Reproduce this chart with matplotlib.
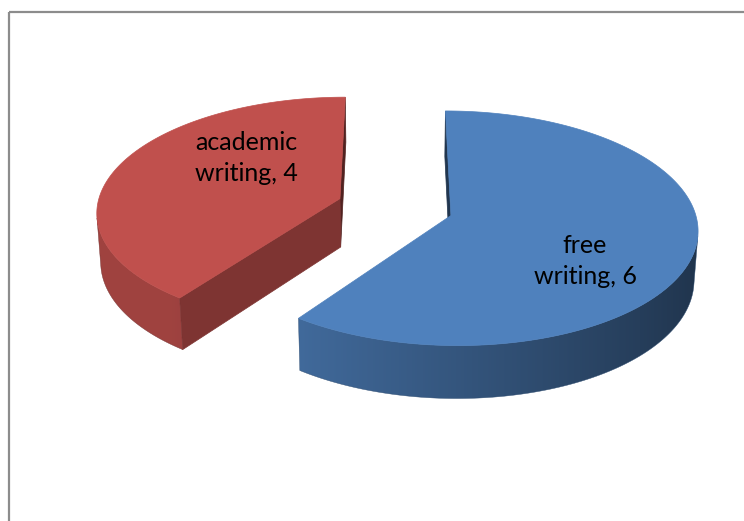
import numpy as np
import matplotlib.pyplot as plt
from matplotlib.patches import Polygon, Rectangle
from matplotlib.colors import to_rgb

# data
labels = ["academic\nwriting", "free\nwriting"]
values = [4, 6]
colors = ["#C0504D", "#4F81BD"]
label_xy = [(246, 158), (585, 261)]   # label centres (pixel layout)

# 3d view settings (Excel-like perspective pie)
ELEV = np.radians(28)
DIST = 8.2
SCALE = 243.0          # px per radius at pie centre
F = SCALE * DIST
CX, CY = 395, 207      # screen position of pie centre
THICK = 0.23
EXPLODE = 0.24
START = 90.0


def proj(X, Y, Z):
    depth = DIST + Y * np.cos(ELEV) - Z * np.sin(ELEV)
    sx = CX + F * X / depth
    sy = CY - F * (Y * np.sin(ELEV) + Z * np.cos(ELEV)) / depth
    return np.column_stack([np.atleast_1d(sx), np.atleast_1d(sy)])


def shade(c, f):
    return tuple(np.clip(np.array(to_rgb(c)) * f, 0, 1))


def side_factor(a):
    return np.clip(0.82 - 0.264 * (np.cos(a) + 0.588), 0.4, 0.83)


fig = plt.figure(figsize=(7.44, 5.21), dpi=100)
ax = fig.add_axes([0, 0, 1, 1])
ax.set_xlim(0, 744)
ax.set_ylim(521, 0)
ax.axis("off")

# chart frame
ax.add_patch(Rectangle((8.5, 12), 800, 600, fill=False, ec="#8c8c8c", lw=1.6))

total = float(sum(values))
bounds = START + 360.0 * np.concatenate([[0], np.cumsum(values)]) / total

for i, v in enumerate(values):
    t1, t2 = bounds[i], bounds[i + 1]
    mid = np.radians((t1 + t2) / 2)
    ox, oy = EXPLODE * np.cos(mid), EXPLODE * np.sin(mid)
    col = colors[i]

    # cut faces (radial walls)
    for ang, nang in [(t1, t1 - 90), (t2, t2 + 90)]:
        a, na = np.radians(ang), np.radians(nang)
        vis = -ox * np.cos(na) + (-DIST * np.cos(ELEV) - oy) * np.sin(na)
        if vis <= 0:
            continue
        ex, ey = ox + np.cos(a), oy + np.sin(a)
        pts = np.vstack([proj(ox, oy, 0), proj(ex, ey, 0),
                         proj(ex, ey, -THICK), proj(ox, oy, -THICK)])
        f = 0.42 + 0.4 * max(0, -np.sin(na))
        c = shade(col, f)
        ax.add_patch(Polygon(pts, closed=True, fc=c, ec=c, lw=0.5))

    # outer curved wall: visible part, filled with a horizontal gradient
    th = np.radians(np.linspace(t1, t2, 600))
    vis = (-DIST * np.cos(ELEV) * np.sin(th) - ox * np.cos(th)
           - oy * np.sin(th) - 1) > 0
    tv = th[vis]
    if len(tv) > 1:
        xs, ys = ox + np.cos(tv), oy + np.sin(tv)
        top = proj(xs, ys, np.zeros_like(xs))
        bot = proj(xs, ys, np.full_like(xs, -THICK))
        pts = np.vstack([top, bot[::-1]])
        poly = Polygon(pts, closed=True, fc="none", ec="none")
        ax.add_patch(poly)
        x0, x1 = pts[:, 0].min(), pts[:, 0].max()
        y0, y1 = pts[:, 1].min(), pts[:, 1].max()
        gx = np.linspace(x0, x1, 300)
        order = np.argsort(top[:, 0])
        ang_at_x = np.interp(gx, top[order, 0], tv[order])
        fac = side_factor(ang_at_x)
        rgb = np.array(to_rgb(col))[None, :] * fac[:, None]
        img = np.repeat(rgb[None, :, :], 2, axis=0)
        im = ax.imshow(img, extent=(x0, x1, y1, y0), aspect="auto",
                       interpolation="bilinear", zorder=1)
        im.set_clip_path(poly)
        ax.add_patch(Polygon(pts, closed=True, fc="none",
                             ec=shade(col, 0.6), lw=0.3, zorder=1))

    # top face
    arc = proj(ox + np.cos(th), oy + np.sin(th), np.zeros_like(th))
    pts = np.vstack([proj(ox, oy, 0), arc])
    ax.add_patch(Polygon(pts, closed=True, fc=col, ec=col, lw=0.5, zorder=2))

    ax.text(label_xy[i][0], label_xy[i][1], f"{labels[i]}, {v}",
            ha="center", va="center", fontsize=18, linespacing=1.4,
            family=["Lato", "DejaVu Sans"], color="black", zorder=3)

ax.set_xlim(0, 744)
ax.set_ylim(521, 0)
fig.savefig("out.png", dpi=100)
